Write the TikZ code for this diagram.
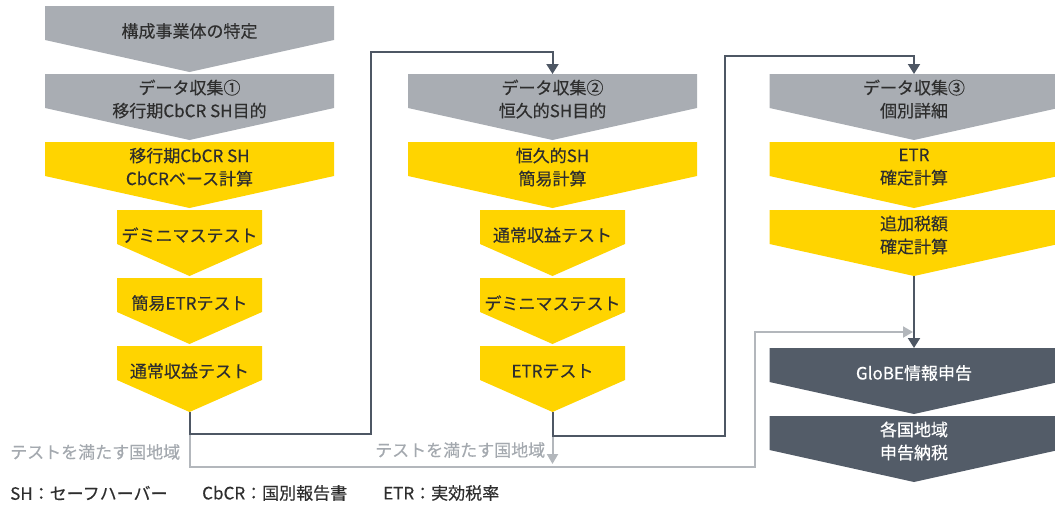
\documentclass[tikz,border=0pt]{standalone}
\usepackage{fontspec}
\setmainfont{Noto Sans CJK JP}[FakeBold=0.3]
\usetikzlibrary{arrows.meta}
\definecolor{cgray}{HTML}{A9ADB3}
\definecolor{cyellow}{HTML}{FFD400}
\definecolor{cdark}{HTML}{535C68}
\definecolor{cline}{HTML}{4E5764}
\definecolor{clight}{HTML}{B3B7BC}
\definecolor{ctext}{HTML}{2E2E2E}
\definecolor{clabel}{HTML}{A4A9AF}
\tikzset{
  gfill/.style={fill=cgray}, gtext/.style={text=ctext},
  yfill/.style={fill=cyellow}, ytext/.style={text=ctext},
  dfill/.style={fill=cdark}, dtext/.style={text=white},
  txt/.style={inner sep=0pt, align=center, font=\fontsize{17}{23}\selectfont},
  dk/.style={draw=cline, line width=2pt},
  lt/.style={draw=clight, line width=2pt},
  dkarrow/.style={-{Triangle[width=12pt,length=10pt]}},
  ltarrow/.style={-{Triangle[width=11pt,length=10pt]}},
  lbl/.style={anchor=west, inner sep=0pt, text=clabel, font=\fontsize{17}{20}\selectfont},
  legend/.style={anchor=west, inner sep=0pt, text=ctext, font=\fontsize{17}{20}\selectfont},
}
% name, cx, top, halfwidth, rect bottom, tip, kind, text
\newcommand\mychev[8]{%
  \fill[#7fill] ({#2-#4},#3) -- ({#2+#4},#3) -- ({#2+#4},#5) -- (#2,#6) -- ({#2-#4},#5) -- cycle;
  \node[txt,#7text] (#1) at (#2,{#3+0.38*(#6-#3)}) {#8};
  \coordinate (#1-top) at (#2,#3);
  \coordinate (#1-tip) at (#2,#6);
}
\begin{document}
\begin{tikzpicture}[x=1pt,y=-1pt]
\useasboundingbox (0,0) rectangle (1055,506);
% column 1
\mychev{a1}{189.5}{6}{144.5}{40}{72}{g}{構成事業体の特定}
\mychev{a2}{189.5}{74}{144.5}{108}{140}{g}{データ収集①\\移行期CbCR SH目的}
\mychev{a3}{189.5}{142}{144.5}{176}{208}{y}{移行期CbCR SH\\CbCRベース計算}
\mychev{a4}{189.5}{210}{72.5}{244}{276}{y}{デミニマステスト}
\mychev{a5}{189.5}{278}{72.5}{312}{344}{y}{簡易ETRテスト}
\mychev{a6}{189.5}{346}{72.5}{380}{412}{y}{通常収益テスト}
% column 2
\mychev{b1}{552.5}{74}{144.5}{108}{140}{g}{データ収集②\\恒久的SH目的}
\mychev{b2}{552.5}{142}{144.5}{176}{208}{y}{恒久的SH\\簡易計算}
\mychev{b3}{552.5}{210}{72.5}{244}{276}{y}{通常収益テスト}
\mychev{b4}{552.5}{278}{72.5}{312}{344}{y}{デミニマステスト}
\mychev{b5}{552.5}{346}{72.5}{380}{412}{y}{ETRテスト}
% column 3
\mychev{c1}{914}{74}{144.5}{108}{140}{g}{データ収集③\\個別詳細}
\mychev{c2}{914}{142}{144.5}{176}{208}{y}{ETR\\確定計算}
\mychev{c3}{914}{210}{144.5}{244}{276}{y}{追加税額\\確定計算}
\mychev{d1}{914}{348}{144.5}{382}{414}{d}{GloBE情報申告}
\mychev{d2}{914}{416}{144.5}{450}{482}{d}{各国地域\\申告納税}
% routing points
\coordinate (j1) at (189.5,434);
\coordinate (r1) at (371,52);
\coordinate (j2) at (552.5,436);
\coordinate (r2) at (725,56);
\coordinate (g1) at (755,467);
\coordinate (gend) at (913,332);
\coordinate (g2end) at (552.5,464);
% light connectors
\draw[lt,ltarrow] (j1) |- (g1) |- (gend);
\draw[lt,ltarrow] (j2) -- (g2end);
% dark connectors
\draw[dk,dkarrow] (a6-tip) -- (j1) -| (r1) -| (b1-top);
\draw[dk,dkarrow] (b5-tip) -- (j2) -| (r2) -| (c1-top);
\draw[dk,dkarrow] (c3-tip) -- (d1-top);
% labels
\node[lbl] (t1) at (10,452) {テストを満たす国地域};
\node[lbl] (t2) at (375,450) {テストを満たす国地域};
\node[legend] (k1) at (10,493) {SH：セーフハーバー};
\node[legend] (k2) at (202,493) {CbCR：国別報告書};
\node[legend] (k3) at (383,493) {ETR：実効税率};
\end{tikzpicture}
\end{document}
